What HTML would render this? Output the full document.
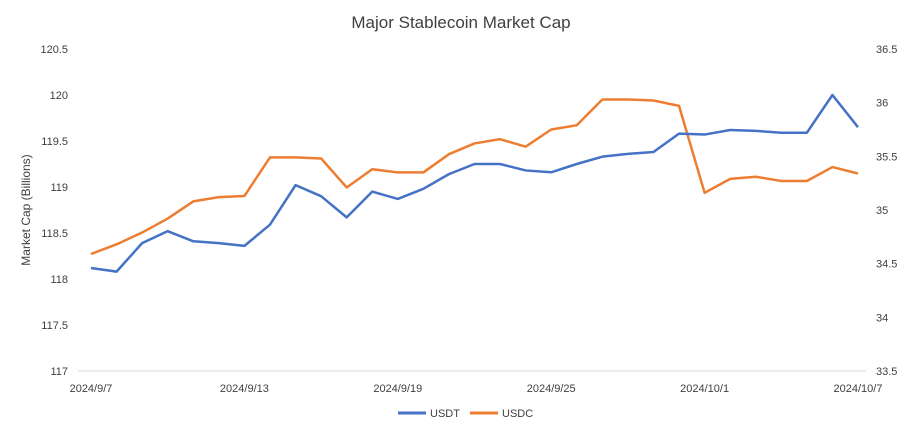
<!DOCTYPE html>
<html><head><meta charset="utf-8"><style>
body{margin:0;background:#fff;font-family:"Liberation Sans",sans-serif;}
svg text{font-family:"Liberation Sans",sans-serif;fill:#404040;}
</style></head><body>
<svg width="922" height="437">
<text x="461" y="28" font-size="17" text-anchor="middle" fill="#262626">Major Stablecoin Market Cap</text>
<text transform="translate(30,210) rotate(-90)" font-size="12" text-anchor="middle">Market Cap (Billions)</text>
<line x1="78" y1="371" x2="866" y2="371" stroke="#d9d9d9"/>
<g id="ticks"></g>
<g id="series"></g>
<g>
<line x1="398" y1="413" x2="426" y2="413" stroke="#4472C4" stroke-width="3"/>
<text x="430" y="417" font-size="11">USDT</text>
<line x1="470" y1="413" x2="498" y2="413" stroke="#ED7D31" stroke-width="3"/>
<text x="502" y="417" font-size="11">USDC</text>
</g>
</svg>
<script>
const dates=["2024/9/7","2024/9/13","2024/9/19","2024/9/25","2024/10/1","2024/10/7"];
const leftTicks=[117,117.5,118,118.5,119,119.5,120,120.5];
const rightTicks=[33.5,34,34.5,35,35.5,36,36.5];
const usdt=[118.12,118.08,118.39,118.52,118.41,118.39,118.36,118.59,119.02,118.90,118.67,118.95,118.87,118.98,119.14,119.25,119.25,119.18,119.16,119.25,119.33,119.36,119.38,119.58,119.57,119.62,119.61,119.59,119.59,120.0,119.65];
const usdc=[34.59,34.68,34.79,34.92,35.08,35.12,35.13,35.49,35.49,35.48,35.21,35.38,35.35,35.35,35.52,35.62,35.66,35.59,35.75,35.79,36.03,36.03,36.02,35.97,35.16,35.29,35.31,35.27,35.27,35.40,35.34];
const NS="http://www.w3.org/2000/svg";
const x0=91,x1=858,yB=371,yT=49;
const xs=i=>x0+(x1-x0)*i/(usdt.length-1);
const yl=v=>yB-(v-117)/(120.5-117)*(yB-yT);
const yr=v=>yB-(v-33.5)/(36.5-33.5)*(yB-yT);
const tg=document.getElementById('ticks'),sg=document.getElementById('series');
function txt(x,y,s,a){const t=document.createElementNS(NS,'text');t.setAttribute('x',x);t.setAttribute('y',y);t.setAttribute('font-size','11');t.setAttribute('text-anchor',a);t.textContent=s;return t;}
leftTicks.forEach(v=>{const t=txt(68,yl(v)+4,String(v),'end');


tg.appendChild(t);});
rightTicks.forEach(v=>{const t=txt(876,yr(v)+4,String(v),'start');


tg.appendChild(t);});
dates.forEach((d,k)=>{const t=txt(xs(k*6),392,d,'middle');


tg.appendChild(t);});
function line(arr,f,c,n){const p=document.createElementNS(NS,'polyline');
p.setAttribute('points',arr.map((v,i)=>xs(i)+','+f(v)).join(' '));
p.setAttribute('fill','none');p.setAttribute('stroke',c);p.setAttribute('stroke-width','2.5');p.setAttribute('stroke-linejoin','round');


sg.appendChild(p);}
line(usdc,yr,'#ED7D31','usdc-line');
line(usdt,yl,'#4472C4','usdt-line');
</script>
</body></html>
